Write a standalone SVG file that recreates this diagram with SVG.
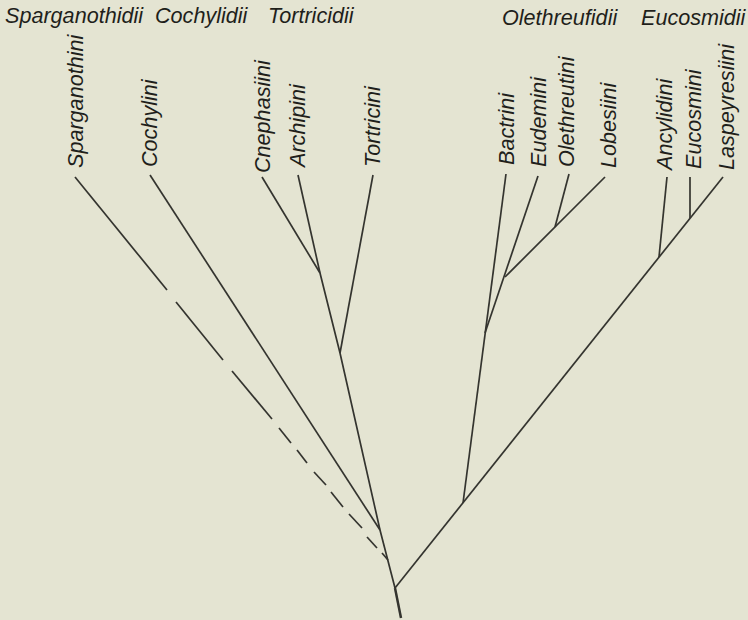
<svg xmlns="http://www.w3.org/2000/svg" width="748" height="620" viewBox="0 0 748 620">
<style>
.bg{fill:#e4e4d2}
.t{font-family:"Liberation Sans",Arial,sans-serif;font-style:italic;font-size:21.6px;fill:#1f1f1b}
.e{stroke:#34342f;stroke-width:1.7;fill:none;stroke-linecap:butt}
.root{stroke:#34342f;stroke-width:2.5;fill:none}
</style>
<rect class="bg" x="0" y="0" width="748" height="620"/>
<g id="headers">
<text class="t" x="5" y="23">Sparganothidii</text>
<text class="t" x="155" y="23">Cochylidii</text>
<text class="t" x="268" y="23">Tortricidii</text>
<text class="t" x="502" y="25">Olethreufidii</text>
<text class="t" x="641" y="25">Eucosmidii</text>
</g>
<g id="n-sparganothini"><text class="t" transform="translate(83,168) rotate(-90)">Sparganothini</text></g>
<g id="n-cochylini"><text class="t" transform="translate(157,167) rotate(-90)">Cochylini</text></g>
<g id="n-cnephasiini"><text class="t" transform="translate(270,173) rotate(-90)">Cnephasiini</text></g>
<g id="n-archipini"><text class="t" transform="translate(305,167) rotate(-90)">Archipini</text></g>
<g id="n-tortricini"><text class="t" transform="translate(380,167) rotate(-90)">Tortricini</text></g>
<g id="n-bactrini"><text class="t" transform="translate(514,165) rotate(-90)">Bactrini</text></g>
<g id="n-eudemini"><text class="t" transform="translate(546,167) rotate(-90)">Eudemini</text></g>
<g id="n-olethreutini"><text class="t" transform="translate(574,167) rotate(-90)">Olethreutini</text></g>
<g id="n-lobesiini"><text class="t" transform="translate(616,168) rotate(-90)">Lobesiini</text></g>
<g id="n-ancylidini"><text class="t" transform="translate(672,170) rotate(-90)">Ancylidini</text></g>
<g id="n-eucosmini"><text class="t" transform="translate(701,169) rotate(-90)">Eucosmini</text></g>
<g id="n-laspeyresiini"><text class="t" transform="translate(734,170) rotate(-90)">Laspeyresiini</text></g>
<g id="connectors">
<path class="root" d="M395,588 L401,618"/>
<path class="e" d="M395,588 L380,530 L340,353 L320,273"/>
<path class="e" d="M320,273 L262,177"/>
<path class="e" d="M320,273 L298,175"/>
<path class="e" d="M340,353 L373,175"/>
<path class="e" d="M380,530 L150,175"/>
<g id="sparganothini-dashed">
<path class="e" d="M75,177 L167,290"/>
<path class="e" d="M176,302 L223,360"/>
<path class="e" d="M232,371 L272,419"/>
<path class="e" d="M279,428 L291,443"/>
<path class="e" d="M297,450 L307,463"/>
<path class="e" d="M314,472 L326,485"/>
<path class="e" d="M331,492 L343,507"/>
<path class="e" d="M349,514 L362,528"/>
<path class="e" d="M367,537 L377,548"/>
<path class="e" d="M382,553 L388,560"/>
</g>
<path class="e" d="M395,588 L723,177"/>
<path class="e" d="M463,503 L506,174"/>
<path class="e" d="M485,333 L538,176"/>
<path class="e" d="M505,277 L605,177"/>
<path class="e" d="M555,227 L569,174"/>
<path class="e" d="M659,257 L667,177"/>
<path class="e" d="M690,218 L690,177"/>
</g>
</svg>
